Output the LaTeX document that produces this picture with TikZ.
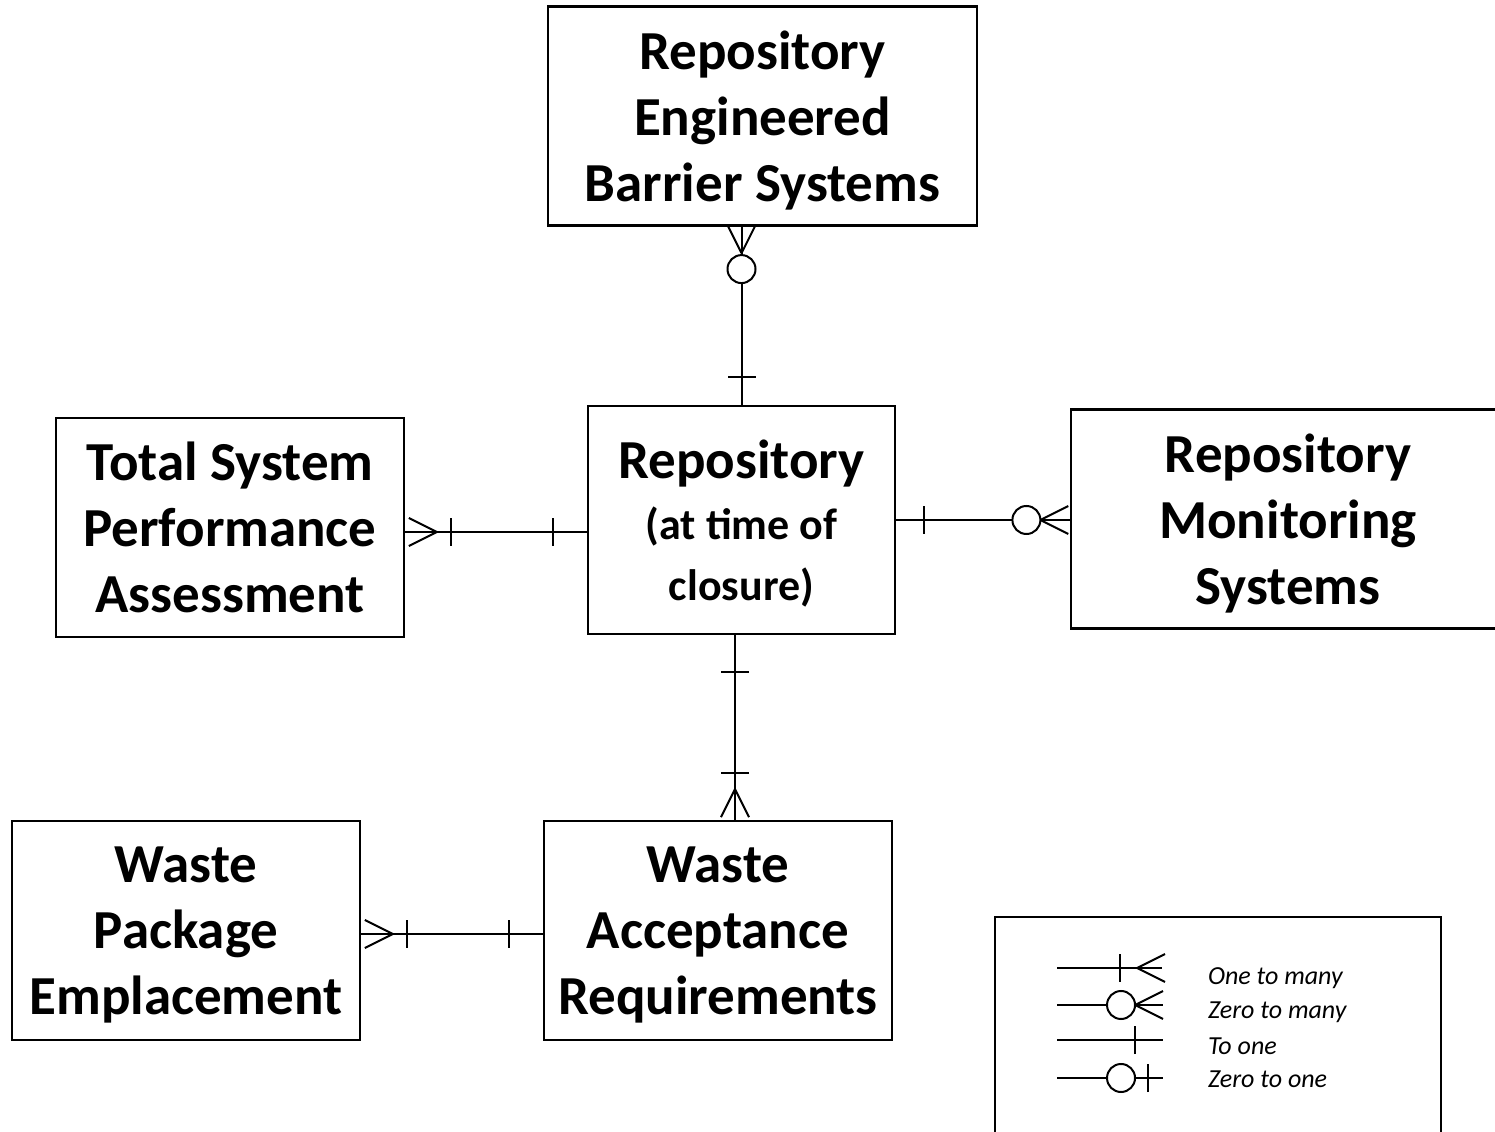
\documentclass[tikz,border=0pt]{standalone}
\usepackage{fontspec}
\setmainfont{Carlito}

\begin{document}
\begin{tikzpicture}
[
x=0.5pt, y=0.5pt,
line width=1pt,
entity/.style={draw, line width=1.2pt, align=center, inner sep=0pt, text depth=0pt, minimum height=109.5pt, font=\bfseries\fontsize{27.5}{33}\selectfont},
keytext/.style={anchor=west, inner sep=0pt, font=\itshape\fontsize{13}{16}\selectfont},
crow/.pic={\draw (0,0) -- (-28,14) (0,0) -- (-28,-14);},
bar/.pic={\draw (0,-14) -- (0,14);},
ring/.pic={\draw [fill=white] (0,0) circle [radius=7pt];},
]
\useasboundingbox (0,0) rectangle (1495,1131);

\node (ebs) [entity, minimum width=214.5pt] at (762.5,1015) {Repository\\Engineered\\Barrier Systems};
\node (tspa) [entity, minimum width=174pt] at (230,603.5) {Total System\\Performance\\Assessment};
\node (rep) [entity, minimum width=153.5pt, minimum height=114pt, font=\bfseries\fontsize{22}{30.5}\selectfont] at (741.5,611)
{{\fontsize{27.5}{33}\selectfont Repository}\\(at time of\\closure)};
\node (mon) [entity, minimum width=217pt] at (1288,612) {Repository\\Monitoring\\Systems};
\node (wp) [entity, minimum width=174pt] at (186,200.5) {Waste\\Package\\Emplacement};
\node (war) [entity, minimum width=174pt] at (718,200.5) {Waste\\Acceptance\\Requirements};

% legend
\node (legend) [draw, line width=1.2pt, minimum width=223pt, minimum height=117pt, inner sep=0pt] at (1218,97) {};
\foreach \i/\txt/\y in {1/One to many/153, 2/Zero to many/119, 3/To one/85, 4/Zero to one/52}
{
\node (key\i) [keytext] at (1207,\y) {\txt};
}

% connectors
\draw (ebs.south -| rep.north) -- (rep.north)
  pic [pos=0.149, rotate=-90] {crow} pic [pos=0.845, rotate=90] {bar};
\path (ebs.south -| rep.north) -- (rep.north) pic [pos=0.238] {ring};

\draw ([yshift=-2.25pt]tspa.east) -- ([yshift=-2.25pt]tspa.east -| rep.west)
  pic [pos=0.174] {crow} pic [pos=0.25] {bar} pic [pos=0.815] {bar};

\draw (rep.east) -- (rep.east -| mon.west)
  pic [pos=0.159] {bar} pic [pos=0.83, rotate=180] {crow};
\path (rep.east) -- (rep.east -| mon.west) pic [pos=0.75] {ring};

\draw ([xshift=-3.25pt]rep.south) -- ([xshift=-3.25pt]rep.south |- war.north)
  pic [pos=0.198, rotate=90] {bar} pic [pos=0.749, rotate=90] {bar} pic [pos=0.834, rotate=90] {crow};

\draw ([yshift=-1.75pt]wp.east) -- ([yshift=-1.75pt]wp.east -| war.west)
  pic [pos=0.174] {crow} pic [pos=0.25] {bar} pic [pos=0.815] {bar};

% legend samples
\draw (1057,163) -- (1162,163) pic [pos=0.6] {bar} pic [pos=0.762, rotate=180] {crow};
\draw (1057,126) -- (1163,126) pic [pos=0.736, rotate=180] {crow};
\path (1057,126) -- (1163,126) pic [pos=0.604] {ring};
\draw (1057,91) -- (1163,91) pic [pos=0.736] {bar};
\draw (1057,53) -- (1163,53) pic [pos=0.858] {bar};
\path (1057,53) -- (1163,53) pic [pos=0.604] {ring};
\end{tikzpicture}
\end{document}
